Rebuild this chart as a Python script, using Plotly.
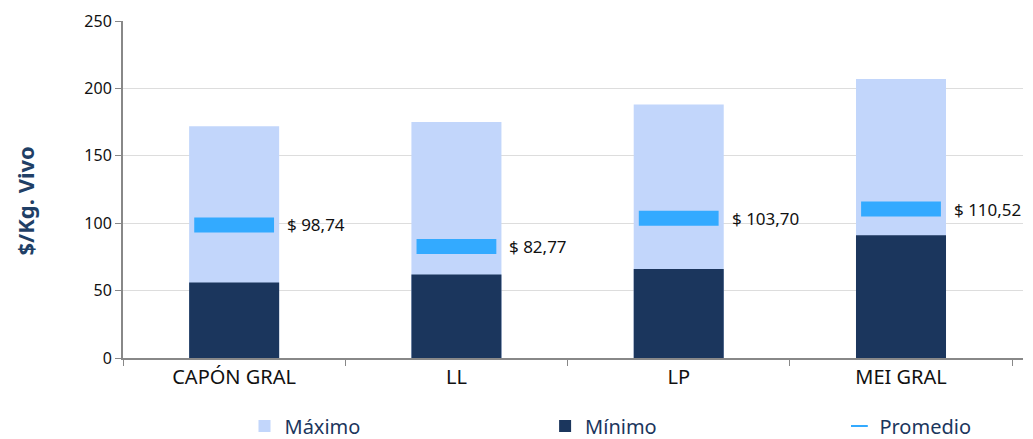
import plotly.graph_objects as go

categories = ["CAPÓN GRAL", "LL", "LP", "MEI GRAL"]
maximo = [172, 175, 188, 207]
minimo = [56, 62, 66, 91]
promedio = [98.74, 82.77, 103.70, 110.52]
promedio_labels = ["$ 98,74", "$ 82,77", "$ 103,70", "$ 110,52"]
y_ticks = [0, 50, 100, 150, 200, 250]

FONT = "Noto Sans"
fig = go.Figure()
fig.add_trace(go.Bar(x=categories, y=maximo, name="Máximo", marker=dict(color="#C2D6FB", line=dict(width=0)),
                     width=0.405, hoverinfo="y", legend="legend"))
fig.add_trace(go.Bar(x=categories, y=minimo, name="Mínimo", marker=dict(color="#1B365D", line=dict(width=0)),
                     width=0.405, hoverinfo="y", legend="legend2"))
fig.add_trace(go.Scatter(x=categories, y=promedio, name="Promedio", mode="markers",
                         marker=dict(symbol="line-ew", size=57, line=dict(width=15, color="#33AAFF"), color="#33AAFF"),
                         legend="legend3"))
for c, v, t in zip(categories, promedio, promedio_labels):
    fig.add_annotation(x=c, y=v, text=t, showarrow=False, xanchor="left", yanchor="middle",
                       xshift=51, font=dict(family=FONT, size=17, color="#111111"))

fig.add_annotation(xref="paper", yref="paper", x=0, y=0.5, xshift=-99, yshift=-12, textangle=-90,
                   text="<b>$/Kg. Vivo</b>", showarrow=False, xanchor="center", yanchor="middle",
                   font=dict(family=FONT, size=22, color="#1F3F66"))

leg = dict(orientation="h", y=-0.202, yanchor="middle", xanchor="left", itemsizing="constant",
           font=dict(family=FONT, size=20, color="#1B365D"), bgcolor="rgba(0,0,0,0)")
fig.update_layout(
    width=1025, height=431,
    barmode="overlay",
    plot_bgcolor="white", paper_bgcolor="white",
    margin=dict(l=115, r=10, t=13, b=81, autoexpand=False),
    font=dict(family=FONT, color="#111111"),
    showlegend=True,
    legend=dict(leg, x=0.135),
    legend2=dict(leg, x=0.469),
    legend3=dict(leg, x=0.796),
    xaxis=dict(showline=True, linecolor="#888888", linewidth=2, ticks="outside", tickson="boundaries",
               ticklen=6, tickcolor="#888888", tickfont=dict(family=FONT, size=20, color="#111111"),
               showgrid=False),
    yaxis=dict(range=[0, 250], tickvals=y_ticks, showline=True, linecolor="#888888", linewidth=2,
               ticks="outside", ticklen=6, tickcolor="#888888", gridcolor="#DDDDDD", gridwidth=1,
               tickfont=dict(family=FONT, size=16, color="#111111"), zeroline=False),
)
fig.write_html("out.html")
